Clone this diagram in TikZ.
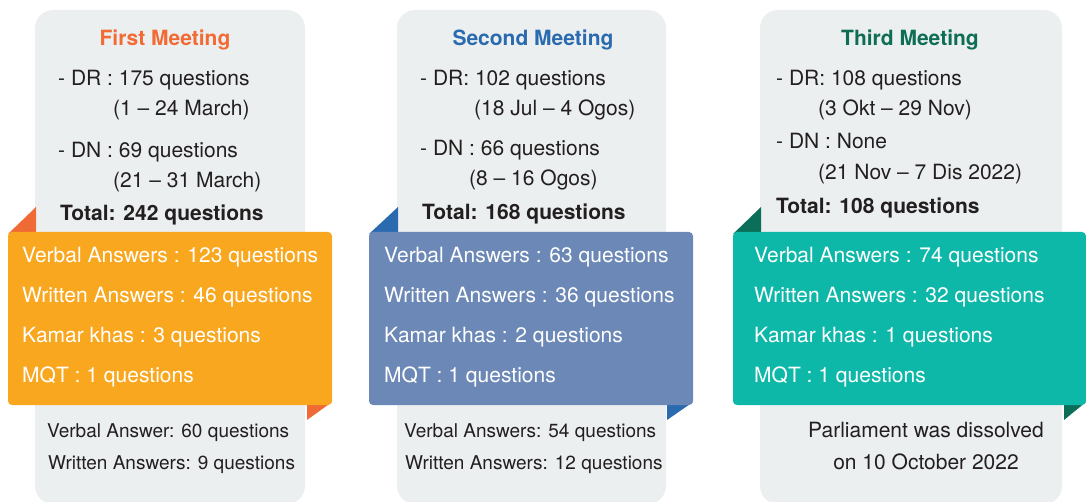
\documentclass[tikz,border=0pt]{standalone}
\usepackage{fontspec}
\setmainfont{TeX Gyre Heros}

\definecolor{cardgray}{HTML}{ECEFF0}
\definecolor{darktext}{HTML}{231F20}
\definecolor{orangeband}{HTML}{F8A71E}
\definecolor{orangefold}{HTML}{F06A35}
\definecolor{orangetitle}{HTML}{F26B35}
\definecolor{blueband}{HTML}{6C88B6}
\definecolor{bluefold}{HTML}{2A6BB0}
\definecolor{bluetitle}{HTML}{2A6BB0}
\definecolor{tealband}{HTML}{0DB8A9}
\definecolor{tealfold}{HTML}{0B6E58}
\definecolor{tealtitle}{HTML}{0E6E55}

\begin{document}
\begin{tikzpicture}[x=1pt,y=-1pt,inner sep=0pt]
	\tikzstyle{card}=[fill=cardgray,rounded corners=18pt]
	\tikzstyle{band}=[rounded corners=4pt]
	\tikzstyle{title}=[font=\fontsize{21}{25}\selectfont\bfseries,text height=15pt,text depth=0pt]
	\tikzstyle{line}=[anchor=west,font=\fontsize{21}{25}\selectfont,text=darktext,text height=15pt,text depth=0pt]
	\tikzstyle{total}=[line,font=\fontsize{21}{25}\selectfont\bfseries]
	\tikzstyle{bandline}=[line,text=white]
	\tikzstyle{note}=[line,font=\fontsize{19}{23}\selectfont]
	
	\useasboundingbox (0,0) rectangle (1086,502);
	
	% Draw the gray cards
	\foreach \cl/\cr in {35/305,397/666,760/1062}
	\fill[card] (\cl,10) rectangle (\cr,504);
	
	% Draw the folded corners behind the bands
	\foreach \bl/\cl/\cr/\br/\col in {8/36/307/332/orange,369/398/667/693/blue,733/761/1064/1086/teal}{
		\fill[\col fold] (\bl,234) -- (\cl,207) -- (\cl,234) -- cycle;
		\fill[\col fold] (\cr,402) -- (\br,402) -- (\cr,420) -- cycle;
	}
	
	% Draw the coloured bands
	\foreach \bl/\br/\col in {8/332/orange,369/693/blue,733/1086/teal}
	\fill[band,\col band] (\bl,232) rectangle (\br,405);
	
	% Annotate the meetings
	\node[title,text=orangetitle] (title-1) at (165,38) {First Meeting};
	\node[title,text=bluetitle] (title-2) at (533,38) {Second Meeting};
	\node[title,text=tealtitle] (title-3) at (910,38) {Third Meeting};
	
	% First meeting
	\node[line] (dr-1) at (58,78) {- DR : 175 questions};
	\node[line] (drdate-1) at (113,108) {(1 – 24 March)};
	\node[line] (dn-1) at (58,150) {- DN : 69 questions};
	\node[line] (dndate-1) at (113,180) {(21 – 31 March)};
	\node[total] (total-1) at (60,213) {Total: 242 questions};
	\node[bandline] (verbal-1) at (22,255) {Verbal Answers : 123 questions};
	\node[bandline] (written-1) at (22,295) {Written Answers : 46 questions};
	\node[bandline] (kamar-1) at (22,335) {Kamar khas : 3 questions};
	\node[bandline] (mqt-1) at (22,375) {MQT : 1 questions};
	\node[note] (nverbal-1) at (47,430) {Verbal Answer: 60 questions};
	\node[note] (nwritten-1) at (48,462) {Written Answers: 9 questions};
	
	% Second meeting
	\node[line] (dr-2) at (420,78) {- DR: 102 questions};
	\node[line] (drdate-2) at (474,108) {(18 Jul – 4 Ogos)};
	\node[line] (dn-2) at (420,148) {- DN : 66 questions};
	\node[line] (dndate-2) at (469,178) {(8 – 16 Ogos)};
	\node[total] (total-2) at (422,212) {Total: 168 questions};
	\node[bandline] (verbal-2) at (384,255) {Verbal Answers : 63 questions};
	\node[bandline] (written-2) at (384,295) {Written Answers : 36 questions};
	\node[bandline] (kamar-2) at (384,335) {Kamar khas : 2 questions};
	\node[bandline] (mqt-2) at (384,375) {MQT : 1 questions};
	\node[note] (nverbal-2) at (404,430) {Verbal Answers: 54 questions};
	\node[note] (nwritten-2) at (405,462) {Written Answers: 12 questions};
	
	% Third meeting
	\node[line] (dr-3) at (776,78) {- DR: 108 questions};
	\node[line] (drdate-3) at (818,108) {(3 Okt – 29 Nov)};
	\node[line] (dn-3) at (776,141) {- DN : None};
	\node[line] (dndate-3) at (818,172) {(21 Nov – 7 Dis 2022)};
	\node[total] (total-3) at (776,206) {Total: 108 questions};
	\node[bandline] (verbal-3) at (754,255) {Verbal Answers : 74 questions};
	\node[bandline] (written-3) at (754,295) {Written Answers : 32 questions};
	\node[bandline] (kamar-3) at (754,335) {Kamar khas : 1 questions};
	\node[bandline] (mqt-3) at (754,375) {MQT : 1 questions};
	\node[line,anchor=center] (dissolved-3) at (926,430) {Parliament was dissolved};
	\node[line,anchor=center] (date-3) at (926,462) {on 10 October 2022};
	
\end{tikzpicture}
\end{document}
